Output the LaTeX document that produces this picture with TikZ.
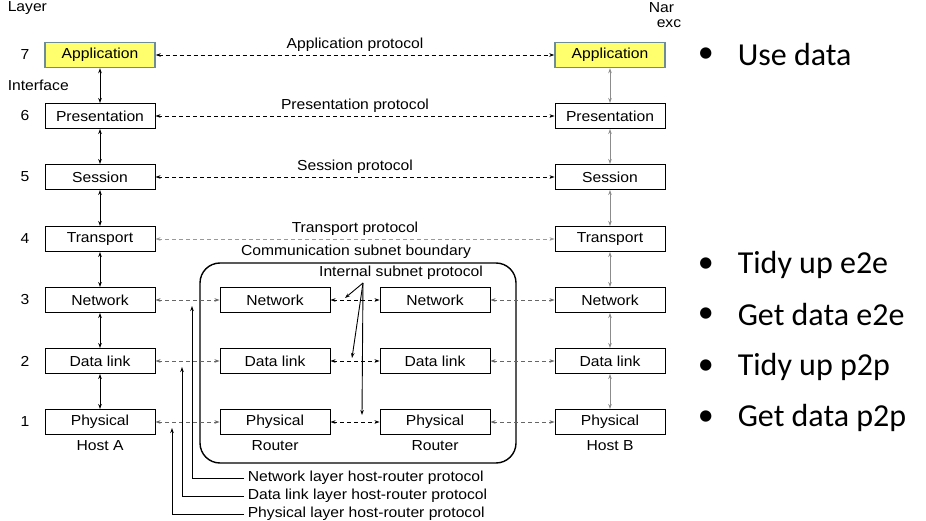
\documentclass[tikz,border=0pt]{standalone}
\usepackage{fontspec}
\setmainfont{Liberation Sans}[FakeStretch=1.08]
\newfontfamily\bulletfont{Carlito}
\usetikzlibrary{arrows.meta}
\definecolor{appyellow}{RGB}{255,255,110}
\definecolor{appedge}{RGB}{110,140,150}
\tikzset{
  layerbox/.style={draw, minimum width=110pt, minimum height=25pt, inner sep=0pt},
  appbox/.style={layerbox, fill=appyellow, draw=appedge, line width=1.4pt},
  tip/.style={-{Stealth[length=5pt,width=3.5pt]}},
  biarrow/.style={{Stealth[length=5pt,width=3.5pt]}-{Stealth[length=5pt,width=3.5pt]}},
  proto/.style={biarrow, dashed, dash pattern=on 4pt off 3pt},
  bulletline/.style={font=\bulletfont\fontsize{32}{37}\selectfont, anchor=west}
}
\begin{document}
\begin{tikzpicture}[x=1pt, y=-1pt, line width=0.9pt, font=\fontsize{14.5}{17}\selectfont]
\useasboundingbox (0,0) rectangle (926,521);

% layer stacks of the two hosts
\node [appbox] (A7) at (100,55) {Application};
\node [appbox] (B7) at (610,55) {Application};
\node at (25,55) {7};
\foreach \n/\name/\y in {6/Presentation/116, 5/Session/177, 4/Transport/239,
                         3/Network/300, 2/Data link/361, 1/Physical/422} {
  \node [layerbox] (A\n) at (100,\y) {\name};
  \node [layerbox] (B\n) at (610,\y) {\name};
  \node at (25,\y) {\n};
}
\foreach \n/\m in {7/6, 6/5, 5/4, 4/3, 3/2, 2/1} {
  \draw [biarrow] (A\n) -- (A\m);
  \draw [biarrow, black!45] (B\n) -- (B\m);
}

% routers
\foreach \n/\name/\y in {3/Network/300, 2/Data link/361, 1/Physical/422} {
  \node [layerbox] (R\n) at (275,\y) {\name};
  \node [layerbox] (S\n) at (435,\y) {\name};
}
\draw [rounded corners=20pt, line width=1.4pt] (200,263) rectangle (516,463);

% peer protocols
\draw [proto] (A7) -- node [above, inner sep=3pt] {Application protocol} (B7);
\draw [proto] (A6) -- node [above, inner sep=3pt] {Presentation protocol} (B6);
\draw [proto] (A5) -- node [above, inner sep=3pt] {Session protocol} (B5);
\draw [proto, black!40] (A4) -- node [above, inner sep=3pt, black] {Transport protocol} (B4);
\foreach \n in {3,2,1} {
  \draw [proto, black!60] (A\n) -- (R\n);
  \draw [proto] (R\n) -- (S\n);
  \draw [proto, black!60] (S\n) -- (B\n);
}

% labels
\node [anchor=west] (layer) at (4,8) {Layer};
\node [anchor=west] (interface) at (4,85) {Interface};
\node [anchor=west] (nar) at (645,8) {Nar};
\node [anchor=west] (exc) at (653,24) {exc};
\node (hosta) at (100,446) {Host A};
\node (hostb) at (610,446) {Host B};
\node (routerl) at (275,446) {Router};
\node (routerr) at (435,446) {Router};
\node (subnet) at (356,252) {Communication subnet boundary};
\node (internal) at (401,273) {Internal subnet protocol};

% internal subnet protocol pointers
\coordinate (isp) at (363,283);
\coordinate (ispn) at (345,298);
\coordinate (ispd) at (352,358);
\coordinate (ispp) at (362,415);
\draw [tip] (isp) -- (ispn);
\draw [tip] (isp) -- (ispd);
\draw [tip] (isp) -- (ispp);

% host-router protocols
\node [anchor=west] (hrn) at (244,478) {Network layer host-router protocol};
\node [anchor=west] (hrd) at (244,496) {Data link layer host-router protocol};
\node [anchor=west] (hrp) at (244,514) {Physical layer host-router protocol};
\coordinate (hrn end) at (192,306);
\coordinate (hrd end) at (182,367);
\coordinate (hrp end) at (172,428);
\draw [tip] (hrn.west) -| (hrn end);
\draw [tip] (hrd.west) -| (hrd end);
\draw [tip] (hrp.west) -| (hrp end);

% bullet points
\foreach \t/\y in {Use data/55, Tidy up e2e/265, Get data e2e/315,
                   Tidy up p2p/367, Get data p2p/418} {
  \node [bulletline] at (694,\y) {\textbullet};
  \node [bulletline] at (734,\y) {\t};
}
\end{tikzpicture}
\end{document}
